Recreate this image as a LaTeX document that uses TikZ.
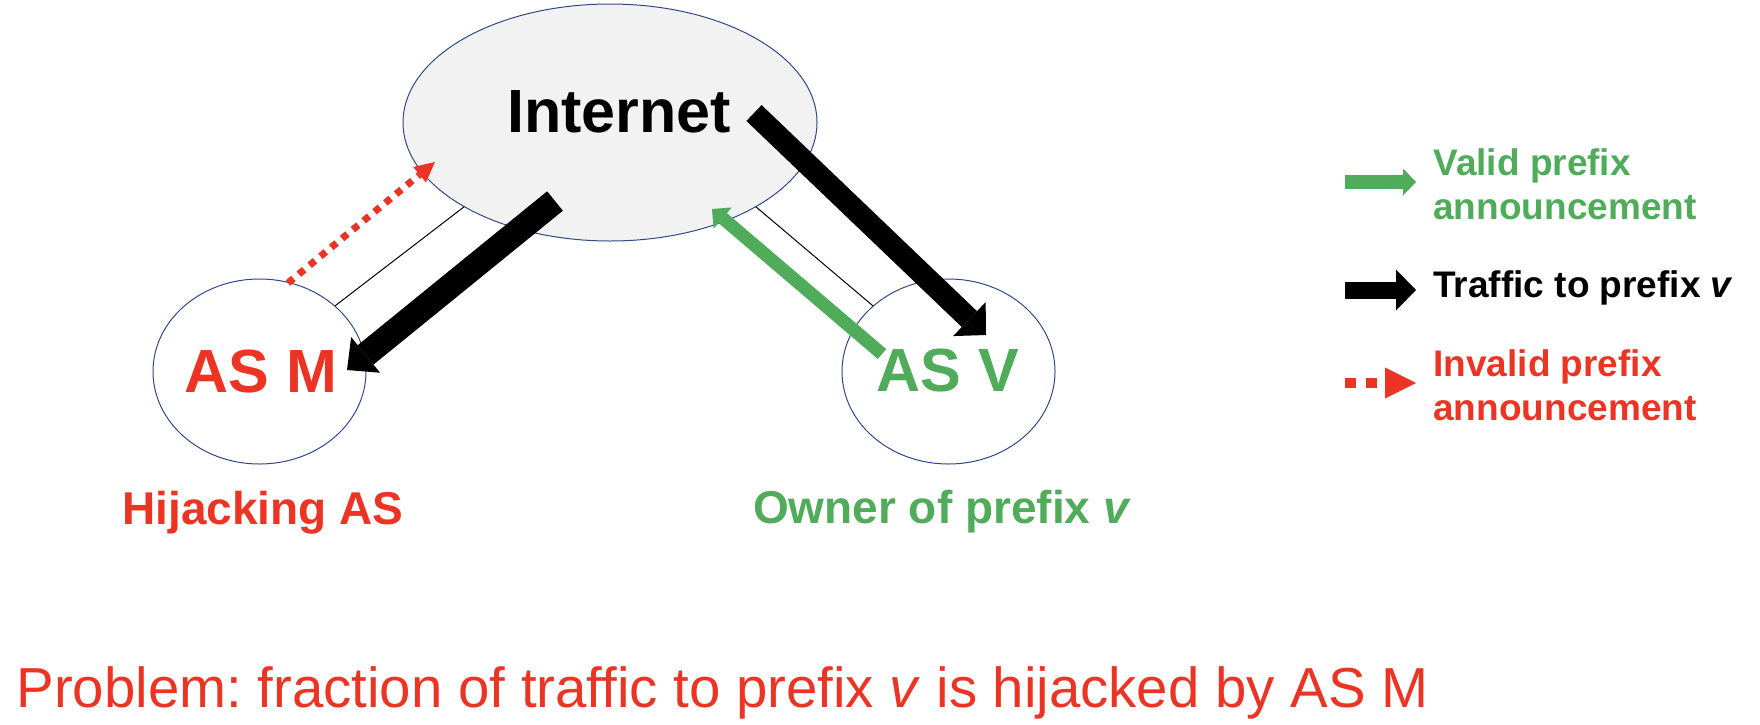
\documentclass[tikz,border=0pt]{standalone}
\usepackage{fontspec}
\setmainfont{Liberation Sans}
\usetikzlibrary{arrows.meta,shapes.geometric}
\definecolor{hred}{RGB}{236,52,36}
\definecolor{vgreen}{RGB}{80,172,90}
\definecolor{ellblue}{RGB}{47,72,136}
\definecolor{inetfill}{RGB}{242,242,242}
\frenchspacing
\begin{document}
\begin{tikzpicture}[x=0.5pt,y=-0.5pt,
  asnode/.style={ellipse, draw=ellblue, line width=0.5pt, inner sep=0pt, outer sep=0pt},
  link/.style={draw=black, line width=0.5pt},
  bigtxt/.style={font=\fontsize{30.5}{36}\selectfont\bfseries, anchor=base, inner sep=0pt},
  sublabel/.style={font=\fontsize{23}{28}\selectfont\bfseries, anchor=base, inner sep=0pt},
  legtxt/.style={font=\fontsize{18.5}{22}\selectfont\bfseries, anchor=base west, align=left, inner sep=0pt},
]
\useasboundingbox (0,0) rectangle (1760,724);
% nodes
\node[asnode, fill=inetfill, minimum width=207pt, minimum height=118.5pt] (inet) at (610,122.5) {};
\node[asnode, minimum width=106.5pt, minimum height=92.5pt] (asm) at (259.5,371.5) {};
\node[asnode, minimum width=106.5pt, minimum height=92.5pt] (asv) at (948.5,371.5) {};
% links
\draw[link] (asm.41) -- (inet.210);
\draw[link] (inet.330) -- (asv.139);
% texts
\node[bigtxt] (inettxt) at (619,132) {Internet};
\node[bigtxt, text=hred] (asmtxt) at (261,392) {AS M};
\node[bigtxt, text=vgreen] (asvtxt) at (948,391) {AS V};
\node[sublabel, text=hred] (hij) at (263,524) {Hijacking AS};
\node[sublabel, text=vgreen] (own) at (942,523) {Owner of prefix \textit{v}};
% arrow end points
\coordinate (tms) at (555,201); \coordinate (tme) at (347,370);
\coordinate (tvs) at (754,113); \coordinate (tve) at (986,335);
\coordinate (gvs) at (882,354); \coordinate (gve) at (712,209);
\coordinate (rms) at (288,283); \coordinate (rme) at (435,162);
\draw[black, line width=12.5pt, -{Triangle[width=23pt,length=12pt,line width=0pt]}] (tms) -- (tme);
\draw[black, line width=11pt, -{Triangle[width=23.5pt,length=11.5pt,line width=0pt]}] (tvs) -- (tve);
\draw[vgreen, line width=6.5pt, -{Triangle[width=14pt,length=7pt,line width=0pt]}] (gvs) -- (gve);
\draw[hred, line width=3.5pt, dash pattern=on 3.5pt off 3.5pt, -{Triangle[width=10pt,length=10pt,line width=0pt]}] (rms) -- (rme);
% legend
\coordinate (lg1) at (1345,182); \coordinate (lg2) at (1416,182);
\coordinate (lb1) at (1345,290); \coordinate (lb2) at (1416,290);
\coordinate (lr1) at (1345,383); \coordinate (lr2) at (1416,383);
\draw[vgreen, line width=7pt, -{Triangle[width=13.5pt,length=6.5pt,line width=0pt]}] (lg1) -- (lg2);
\draw[black, line width=8.5pt, -{Triangle[width=20.5pt,length=10pt,line width=0pt]}] (lb1) -- (lb2);
\draw[hred, line width=5pt, dash pattern=on 5.5pt off 5pt, -{Triangle[width=15.5pt,length=15.5pt,line width=0pt]}] (lr1) -- (lr2);
\node[legtxt, text=vgreen] (legv) at (1433,219) {Valid prefix\\announcement};
\node[legtxt] (legt) at (1433,297) {Traffic to prefix \textit{v}};
\node[legtxt, text=hred] (legi) at (1433,420) {Invalid prefix\\announcement};
% problem statement
\node[font=\fontsize{28.2}{34}\selectfont, text=hred, anchor=base west, inner sep=0pt] (prob) at (16,707) {Problem: fraction of traffic to prefix \textit{v} is hijacked by AS M};
\end{tikzpicture}
\end{document}
